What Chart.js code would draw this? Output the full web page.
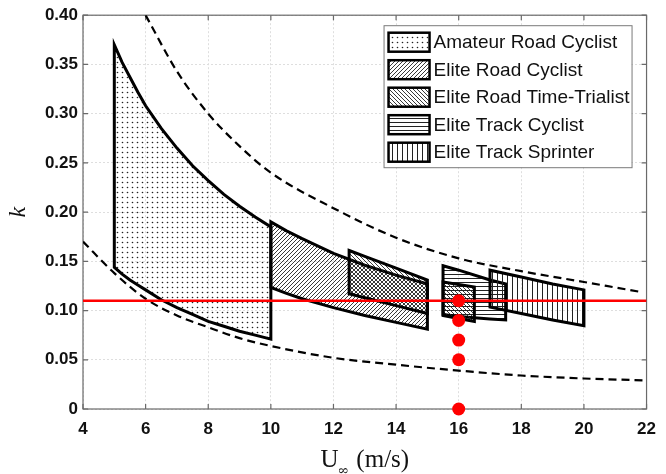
<!DOCTYPE html>
<html>
<head>
<meta charset="utf-8">
<script src="https://cdn.jsdelivr.net/npm/chart.js@4.4.0/dist/chart.umd.min.js"></script>
<style>
  html, body { margin: 0; padding: 0; background: #fff; }
</style>
</head>
<body>
<canvas id="chart" width="666" height="474"></canvas>
<script>
// ---- data ----
const xTicks = [4, 6, 8, 10, 12, 14, 16, 18, 20, 22];
const yTicks = [0, 0.05, 0.10, 0.15, 0.20, 0.25, 0.30, 0.35, 0.40];
const yTickLabels = ["0", "0.05", "0.10", "0.15", "0.20", "0.25", "0.30", "0.35", "0.40"];

const regionLabels = ["Amateur Road Cyclist", "Elite Road Cyclist", "Elite Road Time-Trialist", "Elite Track Cyclist", "Elite Track Sprinter"];

const amateurU = [5, 5.25, 5.5, 5.75, 6, 6.5, 7, 7.5, 8, 8.5, 9, 9.5, 10];
const amateurTop = [0.37, 0.352, 0.337, 0.322, 0.308, 0.285, 0.265, 0.247, 0.232, 0.218, 0.206, 0.195, 0.185];
const amateurBottom = [0.144, 0.137, 0.131, 0.126, 0.121, 0.111, 0.103, 0.096, 0.089, 0.084, 0.079, 0.075, 0.071];

const eliteRoadU = [10, 10.5, 11, 12, 13, 14, 15];
const eliteRoadTop = [0.19, 0.181, 0.173, 0.158, 0.146, 0.136, 0.127];
const eliteRoadBottom = [0.1235, 0.1175, 0.112, 0.103, 0.095, 0.088, 0.081];

const timeTrialU = [12.5, 13, 14, 15];
const timeTrialTop = [0.161, 0.155, 0.143, 0.131];
const timeTrialBottom = [0.117, 0.113, 0.105, 0.097];

const trackTTU = [15.5, 16, 16.5];
const trackTTTop = [0.129, 0.1265, 0.124];
const trackTTBottom = [0.095, 0.092, 0.089];

const trackU = [15.5, 16, 17, 17.5];
const trackTop = [0.1455, 0.141, 0.131, 0.127];
const trackBottom = [0.096, 0.094, 0.0915, 0.0905];

const sprintU = [17, 18, 19, 20];
const sprintTop = [0.141, 0.134, 0.127, 0.121];
const sprintBottom = [0.1035, 0.097, 0.0905, 0.0846];

const upperU = [6, 7, 8, 9, 10, 12, 14, 16, 18, 20, 21.8];
const upperK = [0.40, 0.343, 0.30, 0.267, 0.24, 0.204, 0.174, 0.153, 0.14, 0.129, 0.119];

const lowerU = [4, 5, 6, 7, 8, 9, 10, 12, 14, 16, 18, 20, 22];
const lowerK = [0.17, 0.138, 0.112, 0.095, 0.083, 0.072, 0.064, 0.052, 0.045, 0.039, 0.034, 0.031, 0.029];

const refLineU = [4, 22];
const refLineK = [0.11, 0.11];

const pointU = [16, 16, 16, 16, 16];
const pointK = [0.11, 0.09, 0.07, 0.05, 0];

// ---- hatch patterns ----
function makePattern(size, draw) {
  const c = document.createElement("canvas");
  c.width = size; c.height = size;
  const g = c.getContext("2d");
  g.strokeStyle = "#222";
  g.fillStyle = "#222";
  g.lineWidth = 0.9;
  draw(g, size);
  return g.createPattern(c, "repeat");
}
const dots = makePattern(5, (g) => { g.beginPath(); g.arc(2.5, 2.5, 0.8, 0, Math.PI * 2); g.fill(); });
const fwd = makePattern(4, (g, s) => {
  g.beginPath();
  g.moveTo(0, s); g.lineTo(s, 0);
  g.moveTo(-1, 1); g.lineTo(1, -1);
  g.moveTo(s - 1, s + 1); g.lineTo(s + 1, s - 1);
  g.stroke();
});
const back = makePattern(4, (g, s) => {
  g.beginPath();
  g.moveTo(0, 0); g.lineTo(s, s);
  g.moveTo(-1, s - 1); g.lineTo(1, s + 1);
  g.moveTo(s - 1, -1); g.lineTo(s + 1, 1);
  g.stroke();
});
const horiz = makePattern(4, (g, s) => { g.beginPath(); g.moveTo(0, 2.5); g.lineTo(s, 2.5); g.lineWidth = 1; g.stroke(); });
const vert = makePattern(5, (g, s) => { g.beginPath(); g.moveTo(2.5, 0); g.lineTo(2.5, s); g.lineWidth = 1; g.stroke(); });

// closed outline: along the top, back along the bottom, then one step past the start so the corner joins
function outline(us, tops, bottoms) {
  const pts = us.map((u, i) => ({ x: u, y: tops[i] }));
  for (let i = us.length - 1; i >= 0; i--) pts.push({ x: us[i], y: bottoms[i] });
  pts.push({ x: us[0], y: tops[0] });
  pts.push({ x: us[1], y: tops[1] });
  return pts;
}
const pairs = (xs, ys) => xs.map((x, i) => ({ x: x, y: ys[i] }));

function region(label, data, pattern, order) {
  return {
    label: label, data: data, fill: "shape", backgroundColor: pattern,
    borderColor: "#000", borderWidth: 3, pointRadius: 0, tension: 0, order: order
  };
}

const datasets = [
  region(regionLabels[0], outline(amateurU, amateurTop, amateurBottom), dots, 9),
  region(regionLabels[1], outline(eliteRoadU, eliteRoadTop, eliteRoadBottom), fwd, 8),
  region(regionLabels[2], outline(timeTrialU, timeTrialTop, timeTrialBottom), back, 7),
  region(regionLabels[3], outline(trackU, trackTop, trackBottom), horiz, 6),
  region(regionLabels[4], outline(sprintU, sprintTop, sprintBottom), vert, 4),
  region("", outline(trackTTU, trackTTTop, trackTTBottom), back, 5),
  { data: pairs(upperU, upperK), borderColor: "#000", borderWidth: 2.2, borderDash: [8, 5],
    pointRadius: 0, fill: false, cubicInterpolationMode: "monotone", order: 10 },
  { data: pairs(lowerU, lowerK), borderColor: "#000", borderWidth: 2.2, borderDash: [8, 5],
    pointRadius: 0, fill: false, cubicInterpolationMode: "monotone", order: 10 },
  { data: pairs(refLineU, refLineK), borderColor: "#ff0000", borderWidth: 2.5,
    pointRadius: 0, fill: false, order: 2 },
  { data: pairs(pointU, pointK), showLine: false, pointRadius: 6.5, pointBackgroundColor: "#ff0000",
    pointBorderWidth: 0, pointBorderColor: "#ff0000", clip: false, order: 1 }
];

// axes box with inward ticks (drawn under the data), x title and legend on top
const framePlugin = {
  id: "frame",
  beforeDatasetsDraw(chart) {
    const { ctx, chartArea: a, scales } = chart;
    ctx.save();
    ctx.strokeStyle = "#6a6a6a";
    ctx.lineWidth = 1.2;
    ctx.strokeRect(a.left, a.top, a.right - a.left, a.bottom - a.top);
    ctx.beginPath();
    xTicks.forEach((v) => {
      const px = scales.x.getPixelForValue(v);
      ctx.moveTo(px, a.bottom); ctx.lineTo(px, a.bottom - 5);
      ctx.moveTo(px, a.top); ctx.lineTo(px, a.top + 5);
    });
    yTicks.forEach((v) => {
      const py = scales.y.getPixelForValue(v);
      ctx.moveTo(a.left, py); ctx.lineTo(a.left + 5, py);
      ctx.moveTo(a.right, py); ctx.lineTo(a.right - 5, py);
    });
    ctx.stroke();
    ctx.restore();
  },
  afterDraw(chart) {
    const { ctx, chartArea: a, data } = chart;
    ctx.save();
    // x title with subscript
    const cx = (a.left + a.right) / 2;
    const base = 467;
    ctx.fillStyle = "#111";
    ctx.textBaseline = "alphabetic";
    ctx.textAlign = "left";
    ctx.font = '25px "Liberation Serif"';
    const wU = ctx.measureText("U").width;
    const wRest = ctx.measureText(" (m/s)").width;
    ctx.font = '14px "DejaVu Serif"';
    const wSub = ctx.measureText("\u221E").width;
    const sx = cx - (wU + wSub + wRest) / 2;
    ctx.font = '25px "Liberation Serif"';
    ctx.fillText("U", sx, base);
    ctx.font = '14px "DejaVu Serif"';
    ctx.fillText("\u221E", sx + wU - 1, base + 8);
    ctx.font = '25px "Liberation Serif"';
    ctx.fillText(" (m/s)", sx + wU + wSub, base);

    // legend box
    const w = 248, h = 142;
    const left = a.right - 15 - w, top = a.top + 10;
    ctx.fillStyle = "#fff";
    ctx.fillRect(left, top, w, h);
    ctx.strokeStyle = "#7a7a7a";
    ctx.lineWidth = 1;
    ctx.strokeRect(left + 0.5, top + 0.5, w, h);
    regionLabels.forEach((lab, i) => {
      const ds = data.datasets[i];
      const cy = top + 17 + i * 27.5;
      const bx = left + 5, bw = 41, bh = 19;
      ctx.fillStyle = ds.backgroundColor;
      ctx.fillRect(bx, cy - bh / 2, bw, bh);
      ctx.lineWidth = 2.5;
      ctx.strokeStyle = "#000";
      ctx.strokeRect(bx, cy - bh / 2, bw, bh);
      ctx.fillStyle = "#111";
      ctx.font = '19px "Liberation Sans"';
      ctx.textBaseline = "middle";
      ctx.fillText(lab, bx + bw + 4, cy + 1);
    });
    ctx.restore();
  }
};

const tickFont = { family: "Liberation Sans", weight: "bold", size: 17 };

new Chart(document.getElementById("chart"), {
  type: "line",
  data: { datasets: datasets },
  options: {
    responsive: false,
    animation: false,
    devicePixelRatio: 1,
    layout: { padding: { top: 15, right: 12, left: 0, bottom: 0 } },
    plugins: { legend: { display: false }, tooltip: { enabled: false } },
    scales: {
      x: {
        type: "linear", min: 4, max: 22,
        afterBuildTicks: (s) => { s.ticks = xTicks.map((v) => ({ value: v })); },
        ticks: { font: tickFont, color: "#111", padding: 10, maxRotation: 0, callback: (v) => String(v) },
        grid: { color: "#dedede", drawTicks: false, lineWidth: 1 },
        border: { display: false, dash: [2, 2] },
        afterFit: (s) => { s.height = 65; }
      },
      y: {
        type: "linear", min: 0, max: 0.4,
        afterBuildTicks: (s) => { s.ticks = yTicks.map((v) => ({ value: v })); },
        ticks: { font: tickFont, color: "#111", padding: 5,
          callback: (v) => yTickLabels[yTicks.indexOf(v)] },
        grid: { color: "#dedede", drawTicks: false, lineWidth: 1 },
        border: { display: false, dash: [2, 2] },
        title: { display: true, text: "k", color: "#111",
          font: { family: "Liberation Serif", style: "italic", size: 24 }, padding: { top: 4, bottom: 0 } },
        afterFit: (s) => { s.width = 83; }
      }
    }
  },
  plugins: [framePlugin]
});
</script>
</body>
</html>
